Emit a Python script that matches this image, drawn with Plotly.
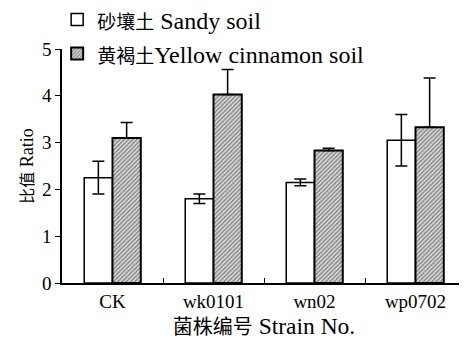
import plotly.graph_objects as go

categories = ["CK", "wk0101", "wn02", "wp0702"]
sandy = [2.25, 1.80, 2.15, 3.05]
sandy_err = [0.35, 0.10, 0.07, 0.55]
yellow = [3.10, 4.03, 2.83, 3.33]
yellow_err = [0.33, 0.53, 0.05, 1.05]
y_ticks = [0, 1, 2, 3, 4, 5]

FONT = "Liberation Serif"


def cjk(t, size):
    return f"<span style=\"font-family:'Noto Sans CJK SC';font-size:{size}px\">{t}</span>"


def lat(t):
    return f"<span style=\"font-family:'Liberation Serif'\">{t}</span>"


def f(size):
    return dict(family=FONT, size=size, color="black")


fig = go.Figure()
fig.add_trace(go.Bar(
    x=categories, y=sandy, name=cjk("砂壤土", 19) + lat("\u00a0Sandy soil"),
    marker=dict(color="white", line=dict(color="black", width=1.5)),
    error_y=dict(type="data", array=sandy_err, color="black", thickness=1.5, width=6),
    legend="legend",
))
fig.add_trace(go.Bar(
    x=categories, y=yellow, name=cjk("黄褐土", 19) + lat("Yellow cinnamon soil"),
    marker=dict(color="#c8c8c8", line=dict(color="black", width=2),
                pattern=dict(shape="/", fgcolor="#2a2a2a", bgcolor="#e0e0e0", size=3, solidity=0.5)),
    error_y=dict(type="data", array=yellow_err, arrayminus=[0, 0, 0, 0], color="black", thickness=1.5, width=6),
    legend="legend2",
))

leg = dict(x=-0.012, xanchor="left", yanchor="middle", bgcolor="rgba(0,0,0,0)",
           font=f(24), itemwidth=30)

fig.update_layout(
    width=459, height=332,
    margin=dict(l=54, r=1, t=41, b=57, autoexpand=False),
    paper_bgcolor="white", plot_bgcolor="white",
    barmode="group", bargap=0.44, bargroupgap=0,
    font=f(19),
    showlegend=True,
    legend=dict(leg, y=1.124),
    legend2=dict(leg, y=0.979),
    xaxis=dict(showline=True, linecolor="black", linewidth=1.5, ticks="inside",
               tickson="boundaries", ticklen=5, tickcolor="black",
               title=dict(text=cjk("菌株编号", 20) + lat("\u00a0Strain No."), font=f(23.5), standoff=1),
               tickfont=f(19)),
    yaxis=dict(range=[0, 5], tickvals=y_ticks, showline=True, linecolor="black", linewidth=1.5,
               ticks="outside", ticklen=5, tickcolor="black", showgrid=False, zeroline=False,
               title=dict(text=cjk("比值", 16) + lat("\u00a0Ratio"), font=f(18), standoff=4),
               tickfont=f(19)),
)

fig.write_html("out.html")
